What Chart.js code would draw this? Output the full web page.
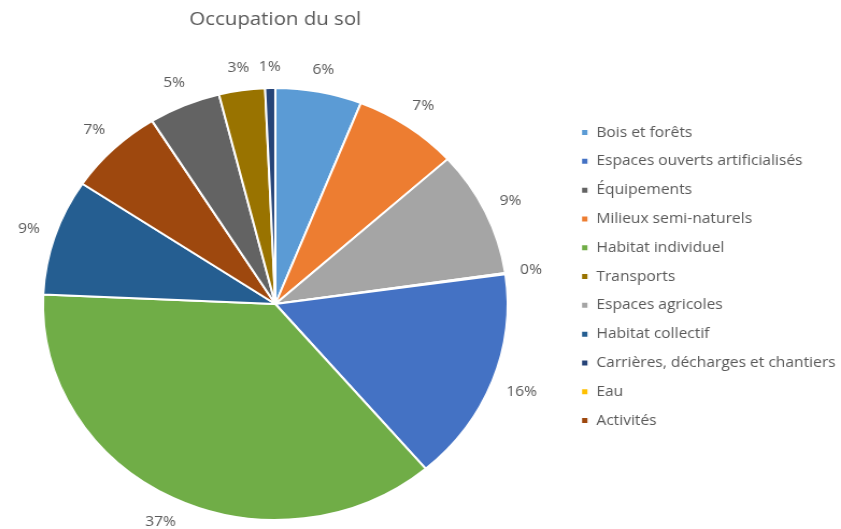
<!DOCTYPE html>
<html>
<head>
<meta charset="utf-8">
<script src="https://cdn.jsdelivr.net/npm/chart.js@4/dist/chart.umd.min.js"></script>
<style>
  html, body { margin: 0; padding: 0; background: #fff; overflow: hidden; width: 841px; height: 529px; position: relative; }
  #wrap { position: absolute; left: -15px; top: 0; width: 801px; height: 529px; transform: scaleX(1.0754); transform-origin: 0 0; }
</style>
</head>
<body>
<div id="wrap"><canvas id="c"></canvas></div>
<script>
// Data (pie order, clockwise from top)
const categories = [
  "Bois et forêts",
  "Milieux semi-naturels",
  "Espaces agricoles",
  "Eau",
  "Espaces ouverts artificialisés",
  "Habitat individuel",
  "Habitat collectif",
  "Activités",
  "Équipements",
  "Transports",
  "Carrières, décharges et chantiers"
];
const values = [6.0, 7.3, 9.4, 0.1, 16.0, 36.9, 8.7, 6.7, 5.0, 3.2, 0.7];
const colors = ["#5B9BD5", "#ED7D31", "#A5A5A5", "#FFC000", "#4472C4", "#70AD47",
                "#255E91", "#9E480E", "#636363", "#997300", "#264478"];
// Legend order as shown
const legendOrder = [
  "Bois et forêts",
  "Espaces ouverts artificialisés",
  "Équipements",
  "Milieux semi-naturels",
  "Habitat individuel",
  "Transports",
  "Espaces agricoles",
  "Habitat collectif",
  "Carrières, décharges et chantiers",
  "Eau",
  "Activités"
];
const titleText = "Occupation du sol";

const FONT = "'Open Sans', 'Noto Sans', sans-serif";
const TEXT = "#595959";

const outsideLabels = {
  id: 'outsideLabels',
  afterDatasetsDraw(chart) {
    const ctx = chart.ctx;
    const meta = chart.getDatasetMeta(0);
    const data = chart.data.datasets[0].data;
    const total = data.reduce((a, b) => a + b, 0);
    ctx.save();
    ctx.font = "14.5px " + FONT;
    ctx.fillStyle = TEXT;
    ctx.textAlign = 'center';
    ctx.textBaseline = 'middle';
    meta.data.forEach((arc, i) => {
      const p = arc.getProps(['x', 'y', 'startAngle', 'endAngle', 'outerRadius'], true);
      const mid = (p.startAngle + p.endAngle) / 2;
      const txt = Math.round(data[i] / total * 100) + '%';
      const w = ctx.measureText(txt).width;
      const h = 16;
      const dx = Math.cos(mid), dy = Math.sin(mid);
      const off = 13 + Math.abs(dx) * w / 2 + Math.abs(dy) * h / 2;
      const r = p.outerRadius + off;
      ctx.fillText(txt, p.x + dx * r, p.y + dy * r);
    });
    ctx.restore();
  }
};

new Chart(document.getElementById('c'), {
  type: 'pie',
  data: {
    labels: categories,
    datasets: [{
      data: values,
      backgroundColor: colors,
      borderColor: '#ffffff',
      borderWidth: 2,
      hoverOffset: 0,
      radius: 216
    }]
  },
  options: {
    responsive: true,
    maintainAspectRatio: false,
    animation: false,
    layout: { padding: { left: 0, right: 0, top: 0, bottom: 9 } },
    plugins: {
      tooltip: { enabled: false },
      title: {
        display: true,
        text: titleText,
        fullSize: false,
        color: TEXT,
        font: { family: FONT, size: 19, weight: 'normal' },
        padding: { top: 8, bottom: 57.2 }
      },
      legend: {
        position: 'right',
        align: 'start',
        fullSize: false,
        title: { display: true, text: '', font: { size: 10 }, padding: { top: 0, bottom: 11 } },
        labels: {
          boxWidth: 7,
          boxHeight: 7,
          padding: 14.3,
          color: TEXT,
          font: { family: FONT, size: 14.5 },
          sort: (a, b) => legendOrder.indexOf(a.text) - legendOrder.indexOf(b.text)
        }
      }
    }
  },
  plugins: [outsideLabels]
});
</script>
</body>
</html>
